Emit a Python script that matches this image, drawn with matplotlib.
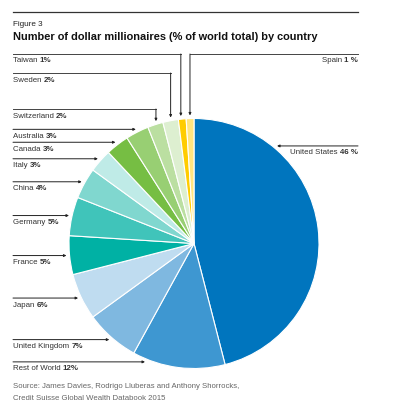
import numpy as np
import matplotlib
matplotlib.use('Agg')
import matplotlib.pyplot as plt

plt.rcParams['font.family'] = ['Liberation Sans', 'DejaVu Sans']

# data
countries = ['United States', 'Rest of World', 'United Kingdom', 'Japan', 'France',
             'Germany', 'China', 'Italy', 'Canada', 'Australia', 'Switzerland',
             'Sweden', 'Taiwan', 'Spain']
shares = [46, 12, 7, 6, 5, 5, 4, 3, 3, 3, 2, 2, 1, 1]
pct_labels = ['46 %', '12%', '7%', '6%', '5%', '5%', '4%', '3%', '3%', '3%', '2%', '2%', '1%', '1 %']
colors = ['#0075be', '#3e97d1', '#7fb8e0', '#bfdcf0', '#00b1a4', '#40c4ba', '#80d7cf',
          '#bfebe7', '#76be43', '#98cf73', '#bbdfa1', '#ddefd0', '#ffcc00', '#ffe57f']

# label layout: side, where the arrow hits inside the wedge (0..1 clockwise), elbow line y
layout = {
    'United States': ('right', 0.244, None),
    'Rest of World': ('left', 0.854, None),
    'Spain': ('right', 0.5, 54),
    'Taiwan': ('left', 0.36, 54),
    'Sweden': ('left', 0.54, 73),
    'Switzerland': ('left', 0.6, 109),
}

W, H = 393, 420
fig = plt.figure(figsize=(W / 100, H / 100), dpi=100)
ax = fig.add_axes([0, 0, 1, 1])

cx, cy, R = 194, 243.5, 125
ax.pie(shares, colors=colors, startangle=-90, counterclock=True,
       center=(cx, cy), radius=R,
       wedgeprops=dict(edgecolor='white', linewidth=0.8))
ax.set_xlim(0, W)
ax.set_ylim(H, 0)
ax.axis('off')

# header
ax.plot([13, 358], [12, 12], color='#333333', lw=0.9)
ax.text(13, 24, 'Figure 3', fontsize=5.9, color='#222222', va='center')
ax.text(13, 37, 'Number of dollar millionaires (% of world total) by country',
        fontsize=7.9, fontweight='bold', color='#111111', va='center')

# source
ax.text(13, 387, 'Source: James Davies, Rodrigo Lluberas and Anthony Shorrocks,',
        fontsize=5.6, color='#666666', va='center')
ax.text(13, 398.5, 'Credit Suisse Global Wealth Databook 2015',
        fontsize=5.6, color='#666666', va='center')

fig.canvas.draw()
renderer = fig.canvas.get_renderer()
inv = ax.transData.inverted()

line_col = '#444444'
txt_col = '#333333'
arrow = dict(arrowstyle='-|>', lw=0.7, color='#222222', mutation_scale=3.5,
             shrinkA=0, shrinkB=0)

cum = np.cumsum([0] + shares[:-1])
for name, share, pct, start in zip(countries, shares, pct_labels, cum):
    side, f, ly = layout.get(name, ('left', 0.5, None))
    theta = np.deg2rad(-90 + 3.6 * (start + f * share))
    tx = cx + R * 1.025 * np.cos(theta)
    ty = cy + R * 1.025 * np.sin(theta)
    x0 = 13 if side == 'left' else 358
    if ly is None:
        ax.annotate('', xy=(tx, ty), xytext=(x0, ty), arrowprops=arrow)
        yt = ty + 7
    else:
        ax.plot([x0, tx], [ly, ly], color=line_col, lw=0.7)
        ax.annotate('', xy=(tx, ty), xytext=(tx, ly), arrowprops=arrow)
        yt = ly + 7
    if side == 'left':
        t = ax.text(x0, yt, name + ' ', fontsize=5.7, color=txt_col, va='center', ha='left')
        bb = t.get_window_extent(renderer)
        xe = inv.transform((bb.x1, bb.y0))[0]
        ax.text(xe, yt, pct, fontsize=5.7, color=txt_col, va='center', ha='left',
                fontweight='bold')
    else:
        t = ax.text(x0, yt, pct, fontsize=5.7, color=txt_col, va='center', ha='right',
                    fontweight='bold')
        bb = t.get_window_extent(renderer)
        xs = inv.transform((bb.x0, bb.y0))[0]
        ax.text(xs, yt, name + ' ', fontsize=5.7, color=txt_col, va='center', ha='right')

fig.savefig('out.png', dpi=100)
